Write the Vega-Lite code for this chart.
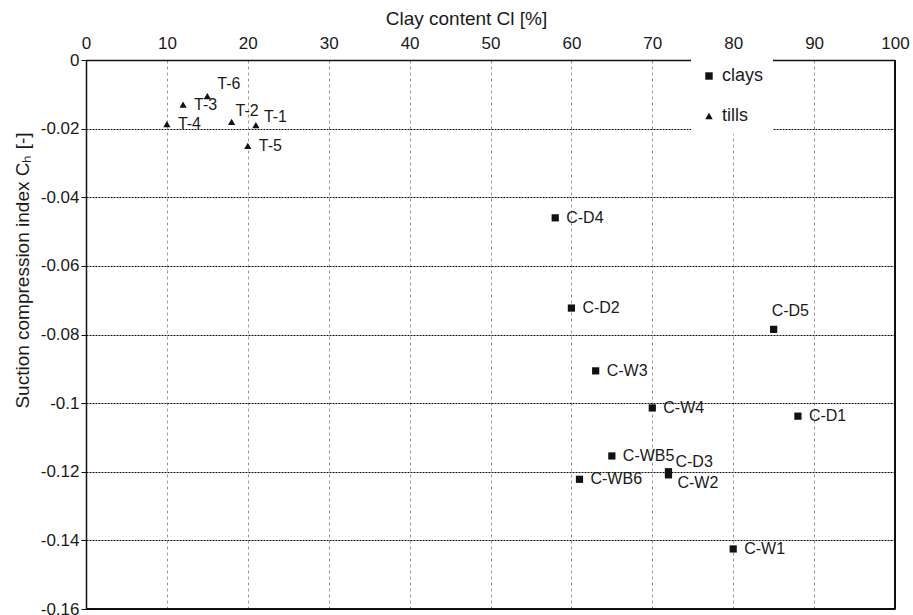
{
  "$schema": "https://vega.github.io/schema/vega-lite/v6.json",
  "width": 809,
  "height": 549,
  "autosize": "none",
  "padding": {"left": 86, "top": 60, "right": 18, "bottom": 6},
  "background": "white",
  "config": {
    "font": "Liberation Sans",
    "view": {"stroke": null},
    "axis": {"zindex": 0}
  },
  "data": {
    "values": [
      {"label": "T-1", "cl": 21, "ch": -0.019, "type": "tills"},
      {"label": "T-2", "cl": 18, "ch": -0.018, "type": "tills"},
      {"label": "T-3", "cl": 12, "ch": -0.013, "type": "tills"},
      {"label": "T-4", "cl": 10, "ch": -0.0187, "type": "tills"},
      {"label": "T-5", "cl": 20, "ch": -0.025, "type": "tills"},
      {"label": "T-6", "cl": 15, "ch": -0.0105, "type": "tills"},
      {"label": "C-D1", "cl": 88, "ch": -0.1038, "type": "clays"},
      {"label": "C-D2", "cl": 60, "ch": -0.0723, "type": "clays"},
      {"label": "C-D3", "cl": 72, "ch": -0.12, "type": "clays"},
      {"label": "C-D4", "cl": 58, "ch": -0.046, "type": "clays"},
      {"label": "C-D5", "cl": 85, "ch": -0.0785, "type": "clays"},
      {"label": "C-W1", "cl": 80, "ch": -0.1425, "type": "clays"},
      {"label": "C-W2", "cl": 72, "ch": -0.1209, "type": "clays"},
      {"label": "C-W3", "cl": 63, "ch": -0.0906, "type": "clays"},
      {"label": "C-W4", "cl": 70, "ch": -0.1014, "type": "clays"},
      {"label": "C-WB5", "cl": 65, "ch": -0.1154, "type": "clays"},
      {"label": "C-WB6", "cl": 61, "ch": -0.1222, "type": "clays"}
    ]
  },
  "layer": [
    {
      "encoding": {
        "x": {
          "field": "cl",
          "type": "quantitative",
          "scale": {"domain": [0, 100], "nice": false, "zero": false},
          "axis": {
            "orient": "top",
            "title": "Clay content Cl [%]",
            "values": [0, 10, 20, 30, 40, 50, 60, 70, 80, 90, 100],
            "ticks": false,
            "labelPadding": 8,
            "labelFontSize": 17,
            "labelColor": "#1a1a1a",
            "labelFlush": false,
            "labelOverlap": false,
            "titleFontSize": 19,
            "titleFontWeight": "normal",
            "titleColor": "#1a1a1a",
            "titlePadding": 6,
            "titleX": 380,
            "domainColor": "#111",
            "domainWidth": 1.5,
            "grid": true,
            "gridColor": "#999",
            "gridDash": [3, 3],
            "gridWidth": 1
          }
        },
        "y": {
          "field": "ch",
          "type": "quantitative",
          "scale": {"domain": [-0.16, 0], "nice": false, "zero": false},
          "axis": {
            "orient": "left",
            "title": "Suction compression index Cₕ [-]",
            "values": [0, -0.02, -0.04, -0.06, -0.08, -0.1, -0.12, -0.14, -0.16],
            "labelExpr": "replace(format(datum.value, '~g'), '\u2212', '-')",
            "tickSize": 5,
            "tickColor": "#111",
            "tickWidth": 1,
            "labelPadding": 2,
            "labelFontSize": 17,
            "labelColor": "#1a1a1a",
            "labelFlush": false,
            "labelOverlap": false,
            "titleFontSize": 19,
            "titleFontWeight": "normal",
            "titleColor": "#1a1a1a",
            "titlePadding": 8,
            "titleY": 210,
            "domainColor": "#111",
            "domainWidth": 1.5,
            "grid": true,
            "gridColor": "#111",
            "gridDash": [2, 1],
            "gridWidth": 1
          }
        }
      },
      "layer": [
        {
          "mark": {"type": "point", "filled": true, "opacity": 1, "color": "#111", "size": 52},
          "encoding": {
            "shape": {
              "field": "type",
              "type": "nominal",
              "scale": {"domain": ["clays", "tills"], "range": ["square", "triangle-up"]},
              "legend": {
                "title": null,
                "orient": "none",
                "legendX": 605,
                "legendY": -2,
                "fillColor": "white",
                "padding": 9,
                "rowPadding": 22,
                "labelFontSize": 18,
                "labelColor": "#1a1a1a",
                "labelOffset": 4,
                "symbolSize": 55,
                "symbolFillColor": "#111",
                "symbolStrokeColor": "#111",
                "zindex": 2
              }
            }
          }
        },
        {
          "transform": [{"filter": "indexof(['T-6','T-2','T-1','C-D5','C-D3','C-W2'], datum.label) < 0"}],
          "mark": {"type": "text", "align": "left", "baseline": "middle", "dx": 11, "fontSize": 16, "color": "#1a1a1a"},
          "encoding": {"text": {"field": "label"}}
        },
        {
          "transform": [{"filter": "datum.label == 'T-6'"}],
          "mark": {"type": "text", "align": "left", "baseline": "middle", "dx": 10, "dy": -12, "fontSize": 16, "color": "#1a1a1a"},
          "encoding": {"text": {"field": "label"}}
        },
        {
          "transform": [{"filter": "datum.label == 'T-2'"}],
          "mark": {"type": "text", "align": "left", "baseline": "middle", "dx": 4, "dy": -11, "fontSize": 16, "color": "#1a1a1a"},
          "encoding": {"text": {"field": "label"}}
        },
        {
          "transform": [{"filter": "datum.label == 'T-1'"}],
          "mark": {"type": "text", "align": "left", "baseline": "middle", "dx": 8, "dy": -8, "fontSize": 16, "color": "#1a1a1a"},
          "encoding": {"text": {"field": "label"}}
        },
        {
          "transform": [{"filter": "datum.label == 'C-D5'"}],
          "mark": {"type": "text", "align": "left", "baseline": "middle", "dx": -2, "dy": -18, "fontSize": 16, "color": "#1a1a1a"},
          "encoding": {"text": {"field": "label"}}
        },
        {
          "transform": [{"filter": "datum.label == 'C-D3'"}],
          "mark": {"type": "text", "align": "left", "baseline": "middle", "dx": 7, "dy": -10, "fontSize": 16, "color": "#1a1a1a"},
          "encoding": {"text": {"field": "label"}}
        },
        {
          "transform": [{"filter": "datum.label == 'C-W2'"}],
          "mark": {"type": "text", "align": "left", "baseline": "middle", "dx": 9, "dy": 8, "fontSize": 16, "color": "#1a1a1a"},
          "encoding": {"text": {"field": "label"}}
        }
      ]
    },
    {
      "mark": {"type": "rule", "color": "#111", "strokeWidth": 1.5},
      "encoding": {"y": {"datum": -0.16, "type": "quantitative"}}
    },
    {
      "mark": {"type": "rule", "color": "#111", "strokeWidth": 1.5},
      "encoding": {"x": {"datum": 100, "type": "quantitative"}}
    }
  ]
}
